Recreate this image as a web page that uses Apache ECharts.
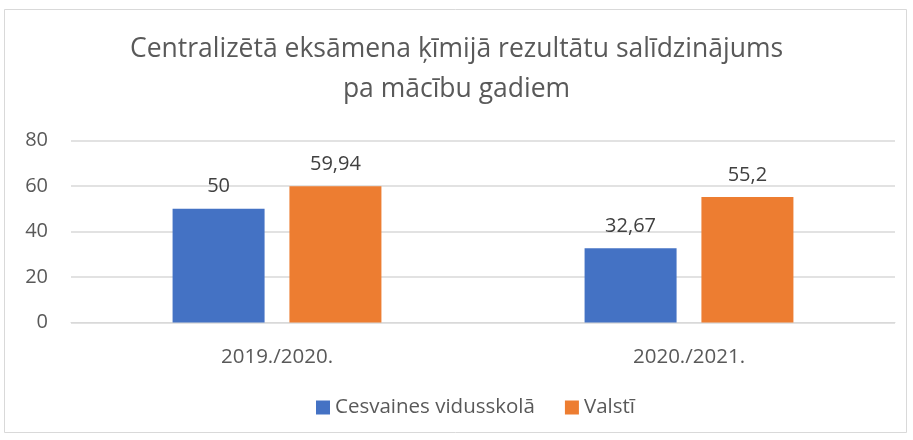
<!DOCTYPE html>
<html><head><meta charset="utf-8">
<script src="https://cdn.jsdelivr.net/npm/echarts@6/dist/echarts.min.js"></script>
<style>html,body{margin:0;padding:0;background:#fff}#c{width:913px;height:440px}</style>
</head><body><div id="c"></div>
<script>
const categories = ['2019./2020.', '2020./2021.'];
const seriesNames = ['Cesvaines vidusskolā', 'Valstī'];
const school = [50, 32.67];
const country = [59.94, 55.2];
const yTicks = [0, 20, 40, 60, 80];

const chart = echarts.init(document.getElementById('c'));
const fmt = p => String(p.value).replace('.', ',');
const font = 'Open Sans';
chart.setOption({
  animation: false,
  backgroundColor: '#fff',
  title: {
    text: 'Centralizētā eksāmena ķīmijā rezultātu salīdzinājums\npa mācību gadiem',
    left: 'center', top: 24,
    textStyle: {fontFamily: font, fontSize: 26.5, fontWeight: 'normal', color: '#595959', lineHeight: 40}
  },
  legend: {
    bottom: 17, left: 311, itemWidth: 14, itemHeight: 14, itemGap: 30,
    icon: 'rect',
    textStyle: {fontFamily: font, fontSize: 20.5, color: '#595959'},
    data: seriesNames
  },
  grid: {left: 71, right: 18, top: 140.5, bottom: 117.5, containLabel: false},
  xAxis: {
    type: 'category', data: categories,
    axisLine: {lineStyle: {color: '#d9d9d9'}},
    axisTick: {show: false},
    axisLabel: {fontFamily: font, fontSize: 20.5, color: '#595959', margin: 24}
  },
  yAxis: {
    type: 'value', min: yTicks[0], max: yTicks[yTicks.length - 1], interval: 20,
    axisLine: {show: false}, axisTick: {show: false},
    splitLine: {lineStyle: {color: '#d9d9d9', width: 1.5}},
    axisLabel: {fontFamily: font, fontSize: 20, color: '#595959', margin: 23}
  },
  series: [
    {name: seriesNames[0], type: 'bar', data: school, barWidth: 92, barGap: '27%',
     itemStyle: {color: '#4472c4'},
     label: {show: true, position: 'top', distance: 12, formatter: fmt, fontFamily: font, fontSize: 20, color: '#404040'}},
    {name: seriesNames[1], type: 'bar', data: country, barWidth: 92,
     itemStyle: {color: '#ed7d31'},
     label: {show: true, position: 'top', distance: 12, formatter: fmt, fontFamily: font, fontSize: 20, color: '#404040'}}
  ],
  graphic: [{type: 'rect', shape: {x: 4.5, y: 9.5, width: 902, height: 423}, style: {fill: 'none', stroke: '#d9d9d9', lineWidth: 1}, silent: true}]
});
</script></body></html>
